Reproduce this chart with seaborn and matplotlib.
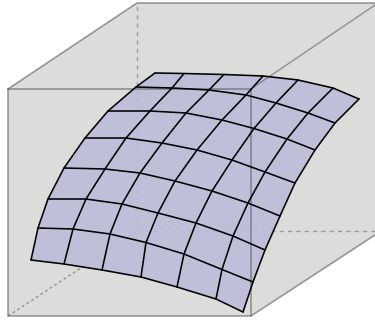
import numpy as np
import pandas as pd
import matplotlib
matplotlib.use("Agg")
import matplotlib.pyplot as plt
import seaborn as sns

# surface grid, one list per row (back to front)
row0_x = [155, 184, 224, 263, 298, 333, 359]
row0_y = [73, 73.5, 74.5, 76, 80, 88, 99]
row1_x = [136, 172, 209, 246, 276, 308, 335]
row1_y = [87, 88, 90, 95, 103, 113, 123]
row2_x = [108, 150, 186, 222, 254, 287, 315]
row2_y = [111, 111, 113, 120, 128.5, 139, 150]
row3_x = [85, 126, 162, 197, 232, 265, 295]
row3_y = [138, 138, 143, 150, 160, 172, 183]
row4_x = [64, 105, 140, 175, 212, 248, 280]
row4_y = [168, 169, 173, 181, 191, 203, 216]
row5_x = [48, 86, 122, 158, 196, 233, 265]
row5_y = [199, 199, 204, 213, 223, 236, 250]
row6_x = [38, 73, 110, 146, 184, 222, 253]
row6_y = [228, 229, 234, 242.5, 254, 269.5, 282]
row7_x = [31, 64, 102, 141, 177, 216, 243]
row7_y = [260, 264, 270, 277, 287, 299, 312]

# box corners
box_x = [8, 137, 375, 375, 251, 8]
box_y = [89, 3, 3, 235, 316, 316]
front_x = [8, 251, 251]
front_y = [89, 89, 316]
top_right_x = [251, 375]
top_right_y = [89, 5]
back_x = [375, 137, 137]
back_y = [231, 231, 3]
floor_x = [8, 137]
floor_y = [316, 231]

BOX_COLOR = "#dcdcda"
SURF_COLOR = "#bcbcdb"
EDGE_COLOR = "#5a615d"


def draw_line(ax, xs, ys, **kw):
    df = pd.DataFrame({"x": xs, "y": ys})
    sns.lineplot(data=df, x="x", y="y", sort=False, estimator=None, ax=ax, **kw)


sns.set_theme(style="white")

fig = plt.figure(figsize=(3.75, 3.2), dpi=100)
ax = fig.add_axes([0, 0, 1, 1])

ax.fill(box_x, box_y, color=BOX_COLOR, lw=0, zorder=1)

# hidden edges, they show through the surface
draw_line(ax, back_x, back_y, color=EDGE_COLOR, lw=1, alpha=0.5, linestyle=(0, (3, 3)), zorder=2)
draw_line(ax, floor_x, floor_y, color=EDGE_COLOR, lw=1, alpha=0.6, linestyle=(0, (2, 2)), zorder=2)

grid_x = np.array([row0_x, row1_x, row2_x, row3_x, row4_x, row5_x, row6_x, row7_x])
grid_y = np.array([row0_y, row1_y, row2_y, row3_y, row4_y, row5_y, row6_y, row7_y])

outline_x = np.r_[grid_x[0], grid_x[1:, -1], grid_x[-1, -2::-1], grid_x[-2:0:-1, 0]]
outline_y = np.r_[grid_y[0], grid_y[1:, -1], grid_y[-1, -2::-1], grid_y[-2:0:-1, 0]]
ax.fill(outline_x, outline_y, color=SURF_COLOR, alpha=0.9, lw=0, zorder=3)

# visible box edges, the right side runs off the picture
draw_line(ax, front_x, front_y, color=EDGE_COLOR, lw=1.2, alpha=0.6, zorder=4)
draw_line(ax, top_right_x, top_right_y, color=EDGE_COLOR, lw=1, alpha=0.6, zorder=4)
draw_line(ax, box_x[:3], box_y[:3], color=EDGE_COLOR, lw=1.2, alpha=0.6, zorder=4)
draw_line(ax, box_x[3:] + box_x[:1], box_y[3:] + box_y[:1], color=EDGE_COLOR, lw=1.2, alpha=0.6, zorder=4)

# grid lines
for i in range(grid_x.shape[0]):
    draw_line(ax, grid_x[i], grid_y[i], color="black", lw=1.15, zorder=5)
for j in range(grid_x.shape[1]):
    draw_line(ax, grid_x[:, j], grid_y[:, j], color="black", lw=1.15, zorder=5)

ax.set_xlim(0, 375)
ax.set_ylim(320, 0)
ax.axis("off")

fig.savefig("out.png", dpi=100)
plt.close(fig)
